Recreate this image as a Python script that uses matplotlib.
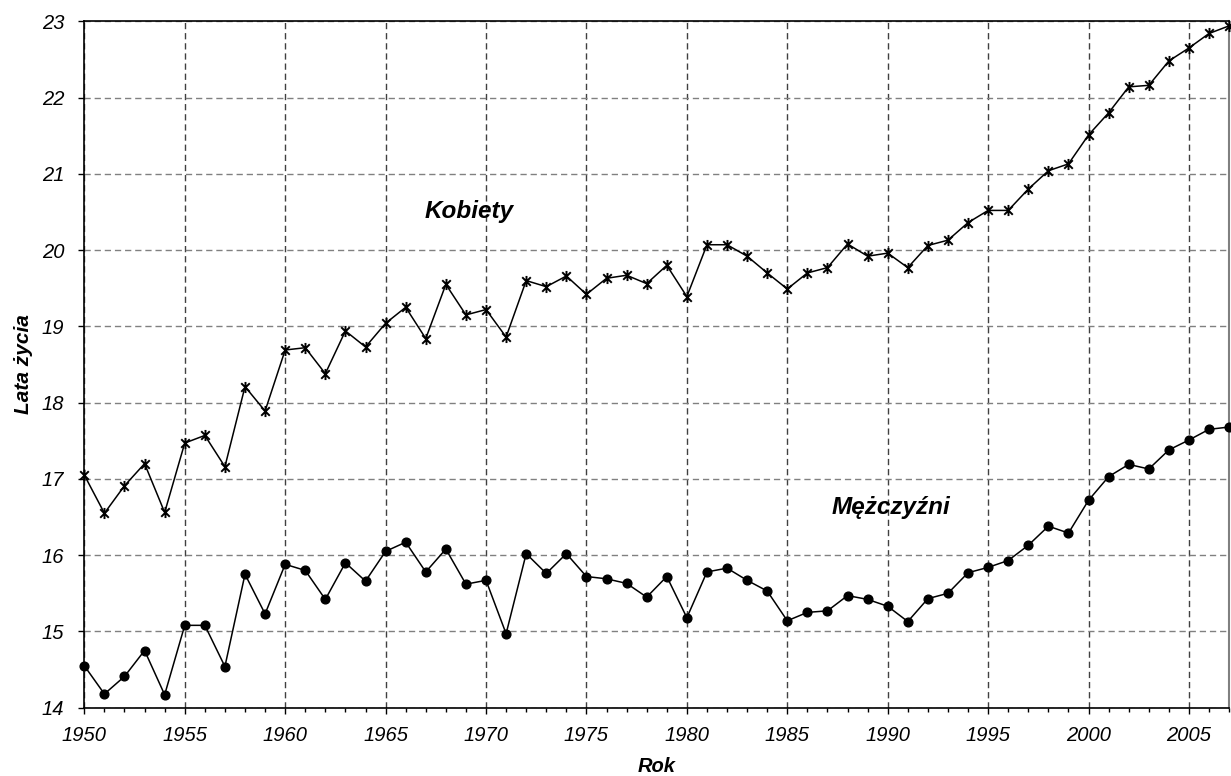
import matplotlib
matplotlib.use('Agg')
import matplotlib.pyplot as plt
from matplotlib.path import Path
from matplotlib.ticker import MultipleLocator

years = list(range(1950, 2008))

# Kobiety (women)
kobiety = [17.05, 16.55, 16.91, 17.20, 16.56, 17.47, 17.57, 17.16, 18.21, 17.89,
           18.69, 18.72, 18.38, 18.94, 18.73, 19.04, 19.25, 18.84, 19.55, 19.15,
           19.22, 18.86, 19.60, 19.52, 19.66, 19.42, 19.63, 19.67, 19.56, 19.80,
           19.39, 20.07, 20.07, 19.92, 19.70, 19.49, 19.70, 19.77, 20.08, 19.92,
           19.96, 19.77, 20.06, 20.13, 20.36, 20.52, 20.52, 20.80, 21.04, 21.13,
           21.51, 21.80, 22.14, 22.16, 22.48, 22.65, 22.84, 22.94]

# Mężczyźni (men)
mezczyzni = [14.55, 14.18, 14.41, 14.75, 14.17, 15.08, 15.08, 14.54, 15.75, 15.23,
             15.88, 15.80, 15.42, 15.90, 15.66, 16.05, 16.17, 15.78, 16.08, 15.62,
             15.67, 14.97, 16.02, 15.76, 16.02, 15.72, 15.69, 15.63, 15.45, 15.72,
             15.18, 15.78, 15.83, 15.67, 15.53, 15.14, 15.25, 15.27, 15.47, 15.42,
             15.33, 15.13, 15.43, 15.50, 15.77, 15.84, 15.93, 16.13, 16.38, 16.29,
             16.72, 17.03, 17.19, 17.13, 17.38, 17.51, 17.65, 17.68]

plt.rcParams['font.family'] = ['Liberation Sans', 'DejaVu Sans']
plt.rcParams['lines.scale_dashes'] = False

# Excel-style star marker: X with a vertical bar
star = Path([(-1, -1), (1, 1), (-1, 1), (1, -1), (0, -1.3), (0, 1.3)],
            [Path.MOVETO, Path.LINETO, Path.MOVETO, Path.LINETO, Path.MOVETO, Path.LINETO])

fig = plt.figure(figsize=(12.31, 7.76), dpi=100)
ax = fig.add_axes([0.0685, 0.088, 0.93, 0.8846])

ax.plot(years, kobiety, color='black', lw=1.1, marker=star, ms=8,
        mec='black', mew=1.4, clip_on=False, zorder=3)
ax.plot(years, mezczyzni, color='black', lw=1.1, marker='o', ms=6.3,
        mfc='black', mec='black', clip_on=False, zorder=3)

ax.set_xlim(1950, 2007)
ax.set_ylim(14, 23)
ax.xaxis.set_major_locator(MultipleLocator(5))
ax.xaxis.set_minor_locator(MultipleLocator(1))
ax.yaxis.set_major_locator(MultipleLocator(1))

ax.grid(True, which='major', axis='y', color='#808080', lw=1.0, dashes=(4.5, 2.8))
ax.grid(True, which='major', axis='x', color='#404040', lw=1.0, dashes=(4.5, 2.8))
ax.set_axisbelow(True)

ax.tick_params(axis='both', which='major', direction='out', length=4.5, width=1,
               labelsize=14.5, pad=9)
ax.tick_params(axis='y', which='major', pad=10)
ax.tick_params(axis='x', which='minor', direction='out', length=3, width=1)
for lab in ax.get_xticklabels() + ax.get_yticklabels():
    lab.set_fontstyle('italic')

for s in ['left', 'bottom', 'top']:
    ax.spines[s].set_color('black')
    ax.spines[s].set_linewidth(1.2)
ax.spines['right'].set_color('#808080')
ax.spines['right'].set_linewidth(1.5)

ax.set_xlabel('Rok', fontsize=14.5, fontweight='bold', fontstyle='italic', labelpad=8)
ax.set_ylabel('Lata życia', fontsize=15, fontweight='bold', fontstyle='italic', labelpad=6)

ax.text(1969.16, 20.50, 'Kobiety', fontsize=17.5, fontweight='bold', fontstyle='italic',
        ha='center', va='center')
ax.text(1990.17, 16.63, 'Mężczyźni', fontsize=17.5, fontweight='bold', fontstyle='italic',
        ha='center', va='center')

fig.savefig('out.png', dpi=100)
